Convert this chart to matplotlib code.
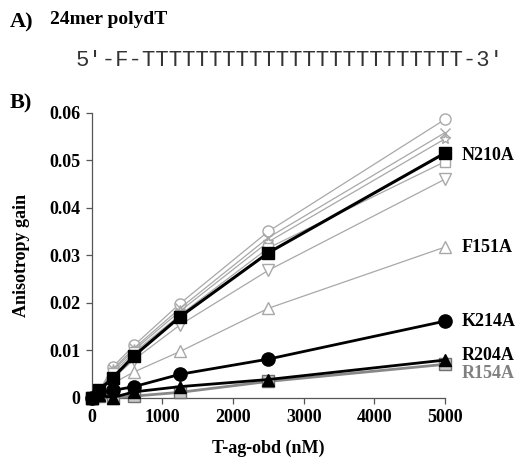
import matplotlib
matplotlib.use("Agg")
import matplotlib.pyplot as plt

# concentrations (nM)
conc = [0, 100, 300, 600, 1250, 2500, 5000]

# gray open-marker series (unlabelled)
open_circle = [0.0, 0.0012, 0.0065, 0.0110, 0.0198, 0.0350, 0.0586]
open_x = [0.0, 0.0011, 0.0060, 0.0104, 0.0188, 0.0337, 0.0558]
open_star = [0.0, 0.0010, 0.0057, 0.0100, 0.0182, 0.0328, 0.0545]
open_square = [0.0, 0.0009, 0.0052, 0.0095, 0.0174, 0.0315, 0.0497]
open_tri_down = [0.0, 0.0008, 0.0040, 0.0080, 0.0153, 0.0268, 0.0460]

# labelled series
f151a = [0.0, 0.0006, 0.0030, 0.0054, 0.0097, 0.0188, 0.0317]
n210a = [0.0, 0.0015, 0.0042, 0.0088, 0.0170, 0.0305, 0.0515]
k214a = [0.0, 0.0012, 0.0015, 0.0023, 0.0049, 0.0081, 0.0161]
r204a = [0.0, 0.0005, 0.0000, 0.0012, 0.0023, 0.0038, 0.0079]
r154a = [0.0, 0.0003, 0.0000, 0.0003, 0.0011, 0.0034, 0.0070]

yticks = [0, 0.01, 0.02, 0.03, 0.04, 0.05, 0.06]
ytick_labels = ["0", "0.01", "0.02", "0.03", "0.04", "0.05", "0.06"]
xticks = [0, 1000, 2000, 3000, 4000, 5000]

serif = ["Liberation Serif", "DejaVu Serif"]
mono = ["Liberation Mono", "DejaVu Sans Mono"]

fig = plt.figure(figsize=(5.23, 4.58), dpi=100)
ax = fig.add_axes([0.1753, 0.132, 0.6757, 0.622])

gray = "#a8a8a8"
for ys, m, ms in [(open_circle, "o", 8), (open_x, "x", 7), (open_star, "*", 8),
                  (open_square, "s", 7), (open_tri_down, "v", 8), (f151a, "^", 8)]:
    ax.plot(conc, ys, color=gray, lw=0.9, marker=m, ms=ms, mfc="white",
            mec=gray, mew=1.0, clip_on=False, zorder=2)

ax.plot(conc, r154a, color="#888888", lw=2.0, marker="s", ms=9, mfc="#c8c8c8",
        mec="#707070", mew=1.0, clip_on=False, zorder=3)
ax.plot(conc, r204a, color="black", lw=2.0, marker="^", ms=9, mfc="black",
        mec="black", clip_on=False, zorder=4)
ax.plot(conc, k214a, color="black", lw=2.0, marker="o", ms=9.5, mfc="black",
        mec="black", clip_on=False, zorder=4)
ax.plot(conc, n210a, color="black", lw=2.2, marker="s", ms=9, mfc="black",
        mec="black", clip_on=False, zorder=5)

ax.set_xlim(0, 5000)
ax.set_ylim(0, 0.06)
ax.set_xticks(xticks)
ax.set_xticklabels([str(v) for v in xticks], family=serif, fontweight="bold", fontsize=13)
ax.set_yticks(yticks)
ax.set_yticklabels(ytick_labels, family=serif, fontweight="bold", fontsize=13)
for s in ["top", "right"]:
    ax.spines[s].set_visible(False)
for s in ["left", "bottom"]:
    ax.spines[s].set_color("#555555")
    ax.spines[s].set_linewidth(0.9)
ax.tick_params(direction="out", length=4, width=0.9, color="#555555", pad=4)

ax.set_xlabel("T-ag-obd (nM)", family=serif, fontweight="bold", fontsize=13, labelpad=10)
ax.set_ylabel("Anisotropy gain", family=serif, fontweight="bold", fontsize=13, labelpad=14)

# series labels on the right
lab_x = 462 / 523
for txt, ypix, col in [("N210A", 156, "black"), ("F151A", 247, "black"),
                       ("K214A", 322, "black"), ("R204A", 355, "black"),
                       ("R154A", 373, "#808080")]:
    fig.text(lab_x, 1 - ypix / 458, txt, family=serif, fontweight="bold",
             fontsize=13, color=col, va="center", ha="left")

# panel text
fig.text(10 / 523, 1 - 22 / 458, "A)", family=serif, fontweight="bold", fontsize=16, va="center")
fig.text(50 / 523, 1 - 20 / 458, "24mer polydT", family=serif, fontweight="bold", fontsize=14, va="center")
fig.text(76 / 523, 1 - 60 / 458, "5\u2032-F-" + "T" * 24 + "-3\u2032", family=mono,
         fontsize=16, color="#333333", va="center")
fig.text(10 / 523, 1 - 103 / 458, "B)", family=serif, fontweight="bold", fontsize=16, va="center")

fig.savefig("out.png", dpi=100)
